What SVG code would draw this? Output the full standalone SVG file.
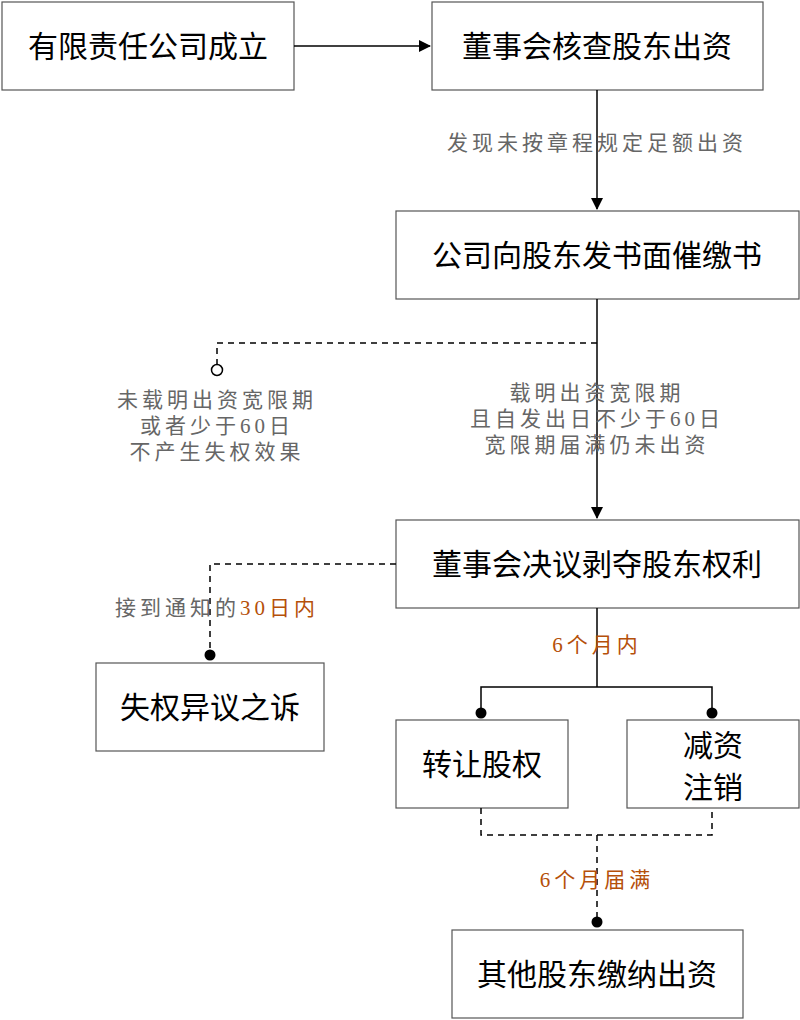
<svg xmlns="http://www.w3.org/2000/svg" width="800" height="1020" viewBox="0 0 800 1020">
<style>
.box{fill:#fff;stroke:#555;stroke-width:1.2}
.t{font-family:"Liberation Sans","Noto Sans CJK SC",sans-serif;font-size:30px;fill:#000;text-anchor:middle}
.l{font-family:"Liberation Serif","Noto Sans CJK SC",serif;font-size:21px;fill:#666;text-anchor:middle;letter-spacing:4px}
.o{fill:#b5500a}
.s{stroke:#000;stroke-width:1.5;fill:none}
.d{stroke:#000;stroke-width:1.5;fill:none;stroke-dasharray:6,5}
</style>
<defs><marker id="a" markerWidth="12" markerHeight="12" refX="11" refY="6" orient="auto" markerUnits="userSpaceOnUse"><path d="M0,0L12,6L0,12z" fill="#000"/></marker></defs>
<g id="n1"><rect class="box" x="2" y="2" width="292" height="88"/><text class="t" x="148" y="57">有限责任公司成立</text></g>
<g id="n2"><rect class="box" x="432" y="2" width="331" height="88"/><text class="t" x="597" y="57">董事会核查股东出资</text></g>
<g id="n3"><rect class="box" x="396" y="211" width="403" height="88"/><text class="t" x="597" y="266">公司向股东发书面催缴书</text></g>
<g id="n4"><rect class="box" x="396" y="520" width="403" height="88"/><text class="t" x="597" y="575">董事会决议剥夺股东权利</text></g>
<g id="n5"><rect class="box" x="96" y="663" width="228" height="88"/><text class="t" x="210" y="718">失权异议之诉</text></g>
<g id="n6"><rect class="box" x="396" y="720" width="172" height="88"/><text class="t" x="482" y="775">转让股权</text></g>
<g id="n7"><rect class="box" x="627" y="720" width="172" height="88"/><text class="t" x="713" y="756">减资</text><text class="t" x="713" y="798">注销</text></g>
<g id="n8"><rect class="box" x="452" y="930" width="291" height="88"/><text class="t" x="597" y="985">其他股东缴纳出资</text></g>
<g id="connectors">
<path class="s" d="M294,46H430" marker-end="url(#a)"/>
<path class="s" d="M597,90V209" marker-end="url(#a)"/>
<path class="s" d="M597,299V518" marker-end="url(#a)"/>
<path class="d" d="M597,343H217V364"/>
<circle cx="217" cy="370" r="5.5" fill="#fff" stroke="#000" stroke-width="1.5"/>
<path class="d" d="M396,564H210V655"/>
<circle cx="210" cy="655" r="5.5" fill="#000"/>
<path class="s" d="M597,608V687M481,713V687H712V713"/>
<circle cx="481" cy="713" r="5.5" fill="#000"/>
<circle cx="712" cy="713" r="5.5" fill="#000"/>
<path class="d" d="M481,808V835H712V808M597,835V922"/>
<circle cx="597" cy="922" r="5.5" fill="#000"/>
<text class="l" x="597" y="150">发现未按章程规定足额出资</text>
<text class="l" x="217" y="407">未载明出资宽限期</text>
<text class="l" x="217" y="433">或者少于60日</text>
<text class="l" x="217" y="459">不产生失权效果</text>
<text class="l" x="597" y="400">载明出资宽限期</text>
<text class="l" x="597" y="426">且自发出日不少于60日</text>
<text class="l" x="597" y="452">宽限期届满仍未出资</text>
<text class="l" x="217" y="615">接到通知的<tspan class="o">30日内</tspan></text>
<text class="l o" x="597" y="652">6个月内</text>
<text class="l o" x="597" y="887">6个月届满</text>
</g>
</svg>
